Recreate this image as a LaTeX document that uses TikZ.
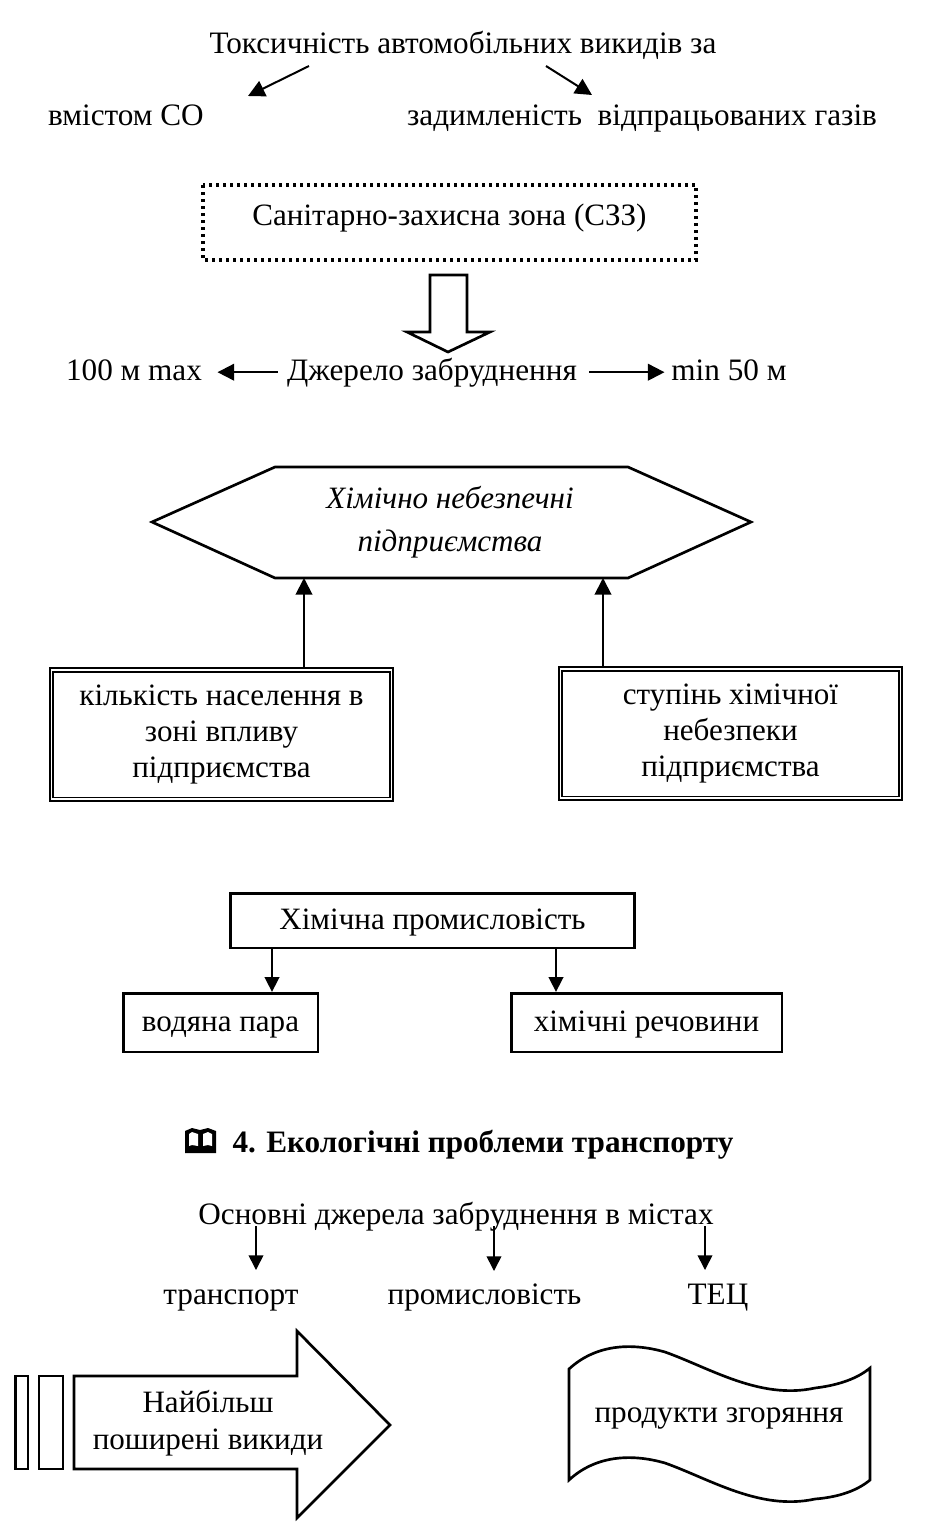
\documentclass[tikz,border=0pt]{standalone}
\usepackage{fontspec}
\setmainfont{Liberation Serif}
\usetikzlibrary{arrows.meta}
\tikzset{
  txt/.style={anchor=base, inner sep=0pt, font=\fontsize{23.4pt}{27pt}\selectfont},
  bigtip/.style={-{Triangle[length=12.5pt,width=12.5pt]}, line width=1.5pt},
  smalltip/.style={-{Triangle[length=11pt,width=11pt]}, line width=1.2pt},
  fbox/.style={draw, line width=2pt, inner sep=0pt, align=center, text height=17pt, text depth=4pt, font=\fontsize{23.3pt}{27pt}\selectfont},
  dbox/.style={draw, double, line width=1.3pt, double distance=1.4pt, inner sep=0pt, align=center, minimum width=255pt, minimum height=97pt, font=\fontsize{23.3pt}{27pt}\selectfont},
  shp/.style={line width=2pt, line join=miter}
}
\begin{document}
\begin{tikzpicture}[x=.75pt,y=-.75pt]
  \useasboundingbox (0,0) rectangle (940,1522);
  \node[txt] (toks) at (463,53) {Токсичність автомобільних викидів за};
  \node[txt] (vmist) at (126,125) {вмістом СО};
  \node[txt] (zadym) at (642,125) {задимленість\ \ відпрацьованих газів};
  \coordinate (toksl) at (309,66);
  \coordinate (toksr) at (546,66);
  \coordinate (vmistt) at (248,96);
  \coordinate (zadymt) at (592,95);
  \draw[bigtip] (toksl) -- (vmistt);
  \draw[bigtip] (toksr) -- (zadymt);

  \node[fbox, draw=none, minimum width=369pt, minimum height=56pt] (szz) at (449.5,217) {Санітарно-захисна зона (СЗЗ)};
  \draw[line width=2.7pt, dash pattern=on 2.6pt off 2.65pt] (203,185) rectangle (696,260);

  \draw[shp] (430,275) -- (467,275) -- (467,332) -- (490,332) -- (448,352) -- (407,332) -- (430,332) -- cycle;

  \node[txt] (dzher) at (432,380) {Джерело забруднення};
  \node[txt] (maxm) at (134,380) {100 м max};
  \node[txt] (minm) at (729,380) {min 50 м};
  \draw[bigtip, yshift=1.5pt, shorten <=7pt, shorten >=11.5pt] (dzher.west) -- (maxm.east |- dzher.west);
  \draw[bigtip, yshift=1.5pt, shorten <=9pt, shorten >=5pt] (dzher.east) -- (minm.west |- dzher.east);

  \node[inner sep=0pt, align=center, font=\itshape\fontsize{23.3pt}{32pt}\selectfont] (himich) at (450,522) {Хімічно небезпечні\\підприємства};
  \draw[shp] (152,522) -- (275,467) -- (628,467) -- (751,522) -- (628,578) -- (275,578) -- cycle;
  \coordinate (hexl) at (304,578);
  \coordinate (hexr) at (603,578);

  \node[dbox] (kilk) at (221.5,734.5) {кількість населення в\\зоні впливу\\підприємства};
  \node[dbox] (stup) at (730.5,733.5) {ступінь хімічної\\небезпеки\\підприємства};
  \draw[bigtip] (hexl |- kilk.north) -- (hexl);
  \draw[bigtip] (hexr |- stup.north) -- (hexr);

  \node[fbox, minimum width=303pt, minimum height=41pt] (prom) at (432.5,920.5) {Хімічна промисловість};
  \node[fbox, minimum width=146pt, minimum height=44pt] (voda) at (220.5,1022.5) {водяна пара};
  \node[fbox, minimum width=203pt, minimum height=44pt] (rech) at (646.5,1022.5) {хімічні речовини};
  \draw[smalltip] (prom.south -| 272,0) -- (voda.north -| 272,0);
  \draw[smalltip] (prom.south -| 556,0) -- (rech.north -| 556,0);

  \fill (185,1153) -- (185,1131) -- (192,1128) -- (200,1130) -- (208,1128) -- (216,1131) -- (216,1153) -- cycle;
  \fill[white] (189,1146) -- (189,1134) -- (192,1132) -- (198,1134) -- (198,1146) -- (192,1145) -- cycle;
  \fill[white] (212,1146) -- (212,1134) -- (208,1132) -- (203,1134) -- (203,1146) -- (208,1145) -- cycle;
  \node[txt, font=\bfseries\fontsize{23.4pt}{27pt}\selectfont] (ekol) at (483,1152) {4. Екологічні проблеми транспорту};

  \node[txt] (osn) at (456,1224) {Основні джерела забруднення в містах};
  \node[txt] (trans) at (231,1304) {транспорт};
  \node[txt] (prm) at (484.5,1304) {промисловість};
  \node[txt] (tec) at (718,1304) {ТЕЦ};
  \coordinate (osna) at (256,1226);
  \coordinate (osnb) at (494,1226);
  \coordinate (osnc) at (705,1226);
  \draw[smalltip] (osna) -- (osna |- 0,1270);
  \draw[smalltip] (osnb) -- (osnb |- 0,1271);
  \draw[smalltip] (osnc) -- (osnc |- 0,1270);

  \draw[shp] (15.5,1376) rectangle (28,1469);
  \draw[shp] (39,1376) rectangle (63,1469);
  \draw[shp] (74,1376) -- (297,1376) -- (297,1331) -- (390,1425) -- (297,1518) -- (297,1469) -- (74,1469) -- cycle;
  \node[inner sep=0pt, align=center, font=\fontsize{23.3pt}{27.8pt}\selectfont] (najb) at (208,1423) {Найбільш\\поширені викиди};

  \draw[shp] (569,1369) .. controls (595,1345) and (630,1342) .. (665,1352) .. controls (710,1368) and (760,1400) .. (815,1388) .. controls (840,1385) and (858,1378) .. (870,1368) -- (870,1480) .. controls (858,1490) and (840,1497) .. (815,1499) .. controls (760,1511) and (710,1479) .. (665,1463) .. controls (630,1453) and (595,1456) .. (569,1480) -- cycle;
  \node[txt] (prod) at (719,1422) {продукти згоряння};
\end{tikzpicture}
\end{document}
